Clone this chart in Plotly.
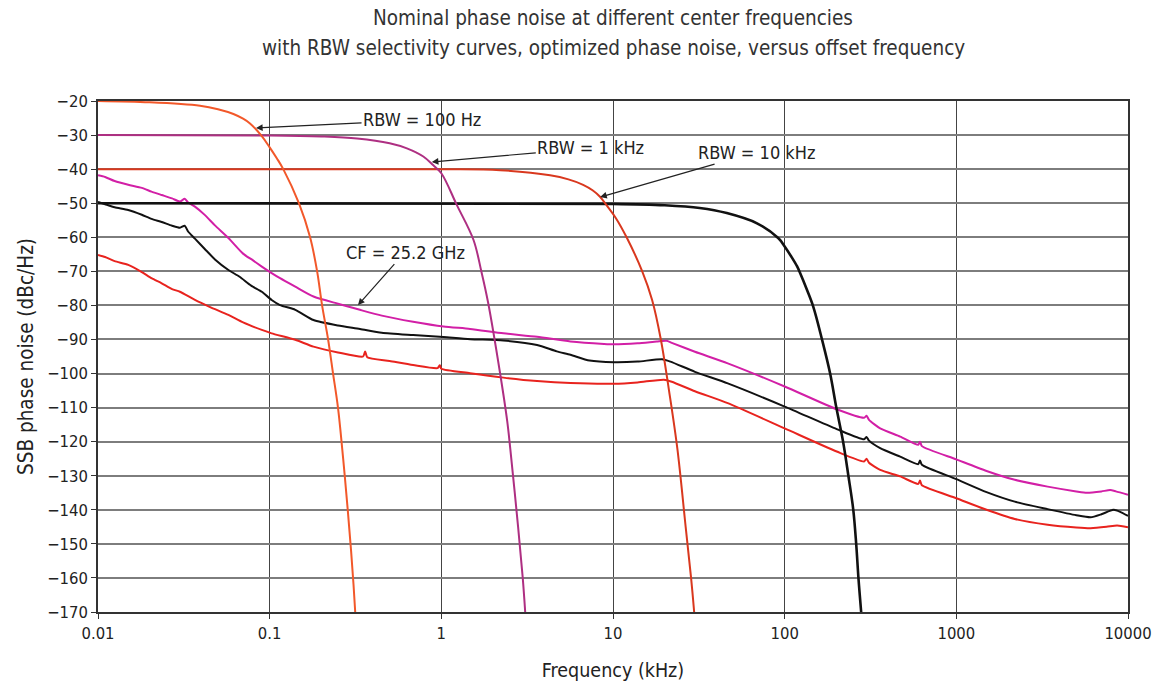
import math
import plotly.graph_objects as go

# ---------------- data ----------------
# RBW selectivity curves (offset frequency in kHz, level in dB)
rbw100_f = [0.01, 0.02, 0.0393, 0.05, 0.0615, 0.07, 0.0768, 0.09, 0.1, 0.11, 0.12, 0.148, 0.172, 0.189, 0.202, 0.219, 0.234, 0.25, 0.268, 0.285, 0.298, 0.308, 0.315]
rbw100_db = [-20, -20.4, -21.4, -22.4, -23.8, -25.2, -26.6, -30.3, -33.6, -36.8, -40, -50, -60, -70, -80, -90, -100, -110, -125, -140, -152, -162, -170]

rbw1k_f = [0.01, 0.1, 0.2, 0.323, 0.5, 0.63, 0.785, 0.895, 1.0, 1.23, 1.54, 1.71, 1.87, 2.2, 2.42, 2.52, 2.8, 2.98, 3.08]
rbw1k_db = [-30, -30.1, -30.4, -31.0, -32.4, -33.9, -36.3, -38.8, -41.2, -50.5, -60.8, -70, -79, -100, -114, -122, -145, -160, -170]

rbw10k_f = [0.01, 1, 2.2, 4.3, 5.5, 6.7, 7.6, 8.4, 9.3, 10.4, 12, 14.8, 16.9, 19, 21.2, 23.7, 26.5, 28.5, 29.7]
rbw10k_db = [-40, -40, -40.3, -41.8, -43.0, -44.6, -46.2, -48.1, -51.0, -54.4, -60, -70, -78.4, -90, -105, -122, -145, -160, -170]

rbw100k_f = [0.01, 10, 20, 32, 46, 69, 92, 100, 110, 118, 123, 135, 147, 165, 184, 200, 219, 235, 251, 261, 269, 279]
rbw100k_db = [-50, -50.2, -50.6, -51.4, -52.9, -55.9, -60.3, -62.7, -65.9, -68.5, -70.5, -75.5, -80.5, -90, -100, -110, -120, -130, -140, -150, -160, -170]

# Phase noise curves (offset frequency in kHz, dBc/Hz)
pn_top_f = [0.01, 0.011, 0.0125, 0.015, 0.018, 0.0205, 0.0235, 0.027, 0.030, 0.032, 0.0335, 0.0367, 0.042, 0.048, 0.0575,
            0.070, 0.080, 0.090, 0.1027, 0.1149, 0.141, 0.18, 0.25, 0.3356, 0.45, 0.685, 1.03, 1.47, 2.30,
            3.61, 5.65, 8.87, 10.1, 13.9, 18, 20.5, 22, 30, 46.6, 100, 201, 290, 300, 310, 360, 471, 600, 614, 630,
            1000, 1500, 2189, 3403, 5000, 5761, 7000, 7873, 8500, 10000]
pn_top_db = [-41.8, -42.3, -43.5, -44.6, -45.5, -46.6, -47.6, -48.6, -49.5, -48.7, -49.8, -51.0, -53.5, -56.5, -60.2,
             -64.8, -66.8, -68.6, -70.5, -72.0, -74.5, -77.4, -79.5, -81.3, -83.0, -84.8, -86.2, -86.9, -88.2,
             -89.2, -90.6, -91.3, -91.4, -91.1, -90.6, -90.4, -91.0, -93.6, -97.0, -103.8, -110.5, -113.0, -112.4, -113.6, -116.1, -118.5, -120.9, -120.0, -121.3,
             -125.2, -128.6, -131.2, -133.2, -134.6, -135.0, -134.6, -134.2, -134.6, -135.6]

pn_mid_f = [0.01, 0.011, 0.0125, 0.015, 0.018, 0.0205, 0.0235, 0.027, 0.030, 0.032, 0.0335, 0.0367, 0.042, 0.048, 0.0575,
            0.0668, 0.078, 0.090, 0.1027, 0.1149, 0.141, 0.18, 0.25, 0.3356, 0.45, 0.685, 1.03, 1.47, 2.30, 3.61, 4.70,
            5.65, 7.3, 10.1, 13.9, 19.3, 21.6, 30, 46.6, 100, 201, 290, 300, 310, 360, 471, 600, 614, 630, 1000, 1500,
            2189, 3403, 5000, 6057, 7000, 8230, 9000, 10000]
pn_mid_db = [-49.6, -50.3, -51.2, -52.0, -53.4, -54.6, -55.5, -56.6, -57.2, -56.6, -58.3, -60.4, -63.5, -66.5, -69.6,
             -71.6, -74.2, -76.0, -78.4, -79.9, -81.3, -84.3, -85.9, -86.9, -88.0, -88.7, -89.3, -89.9, -90.3, -91.6, -93.5,
             -94.5, -96.2, -96.7, -96.5, -95.8, -96.5, -99.5, -102.9, -109.7, -116.3, -119.3, -118.6, -119.7, -121.9, -124.4, -126.6, -125.5, -126.8, -131.0, -134.8,
             -137.6, -139.8, -141.6, -142.2, -141.3, -140.0, -140.6, -141.8]

pn_low_f = [0.01, 0.011, 0.0125, 0.015, 0.018, 0.0205, 0.0235, 0.027, 0.030, 0.0367, 0.045, 0.0575, 0.07, 0.090, 0.1027,
            0.141, 0.18, 0.25, 0.35, 0.36, 0.37, 0.5, 0.685, 0.95, 0.98, 1.0, 1.47, 2.30, 3.61, 5.65, 10.1, 13.9, 19.8,
            22, 30, 46.6, 100, 201, 290, 300, 310, 360, 471, 600, 614, 630, 1000, 1500, 2189, 3403, 5000, 6057, 7500,
            8640, 10000]
pn_low_db = [-65.2, -65.8, -67.0, -68.1, -70.2, -72.0, -73.5, -75.2, -76.0, -78.4, -80.5, -82.8, -85.0, -87.2, -88.2,
             -90.1, -92.1, -93.8, -95.0, -93.5, -95.2, -96.3, -97.5, -98.4, -97.6, -98.6, -99.9, -101.2, -102.2, -102.8, -103.0, -102.6, -101.8,
             -102.4, -105.2, -108.7, -116.1, -122.9, -125.8, -125.0, -126.2, -128.3, -130.2, -132.4, -131.4, -132.8, -136.6, -140.0, -142.7, -144.4, -145.2, -145.4, -145.0,
             -144.6, -145.1]

x_tickvals = [0.01, 0.1, 1, 10, 100, 1000, 10000]
x_ticktext = ["0.01", "0.1", "1", "10", "100", "1000", "10000"]

# annotation labels with the point each arrow points at (kHz, dB)
labels = ["RBW = 100 Hz", "RBW = 1 kHz", "RBW = 10 kHz", "CF = 25.2 GHz"]
label_pts = [(0.0833, -27.9), (0.88, -37.9), (8.42, -48.2), (0.327, -79.9)]
label_offsets = [(166, -8), (159, -14), (156, -45), (47, -53)]

FONT = "DejaVu Sans Condensed, Liberation Sans Narrow, Arial Narrow, sans-serif"

fig = go.Figure()

series = [
    (pn_top_f, pn_top_db, "#D21FA6", 2, 0.6),
    (pn_mid_f, pn_mid_db, "#111111", 2, 0.6),
    (pn_low_f, pn_low_db, "#E8231E", 2, 0.6),
    (rbw100k_f, rbw100k_db, "#111111", 2.6, 1.0),
    (rbw10k_f, rbw10k_db, "#D9381E", 2, 1.0),
    (rbw1k_f, rbw1k_db, "#AE2F82", 2, 1.0),
    (rbw100_f, rbw100_db, "#F2582A", 2, 1.0),
]
for fx, fy, col, w, sm in series:
    fig.add_trace(go.Scatter(x=fx, y=fy, mode="lines",
                             line=dict(color=col, width=w, shape="spline", smoothing=sm),
                             showlegend=False, hoverinfo="skip"))

for txt, (px, py), (ax, ay) in zip(labels, label_pts, label_offsets):
    fig.add_annotation(x=math.log10(px), y=py, xref="x", yref="y", text=txt,
                       showarrow=True, ax=ax, ay=ay, arrowhead=2, arrowsize=1.1,
                       arrowwidth=1.2, arrowcolor="#222", standoff=0,
                       font=dict(family=FONT, size=18, color="#222"), bgcolor="rgba(0,0,0,0)")

fig.add_annotation(text="Nominal phase noise at different center frequencies", xref="paper", yref="paper",
                   x=0.5, y=1.1624, showarrow=False, yanchor="middle",
                   font=dict(family=FONT, size=20.5, color="#333"))
fig.add_annotation(text="with RBW selectivity curves, optimized phase noise, versus offset frequency",
                   xref="paper", yref="paper", x=0.5, y=1.1037, showarrow=False, yanchor="middle",
                   font=dict(family=FONT, size=20.5, color="#333"))

fig.update_layout(
    width=1155, height=688,
    margin=dict(l=98, r=27, t=101, b=76, autoexpand=False),
    paper_bgcolor="white", plot_bgcolor="white",
    font=dict(family=FONT, size=18, color="#222"),
    showlegend=False,
)
fig.update_xaxes(type="log", range=[-2, 4], tickvals=x_tickvals, ticktext=x_ticktext,
                 showgrid=True, gridcolor="#444", gridwidth=1.2,
                 showline=True, linecolor="#333", linewidth=1.5, mirror=True,
                 ticks="outside", ticklen=5, tickcolor="#333", ticklabelstandoff=0,
                 ticklabeloverflow="allow", automargin=False,
                 tickfont=dict(family=FONT, size=16.5, color="#222"),
                 title=dict(text="Frequency (kHz)", font=dict(family=FONT, size=19.5, color="#222"), standoff=22),
                 zeroline=False)
fig.update_yaxes(range=[-170, -20], dtick=10, tick0=-20, automargin=False,
                 showgrid=True, gridcolor="#7d7d7d", gridwidth=1.6,
                 showline=True, linecolor="#333", linewidth=1.5, mirror=True,
                 ticks="outside", ticklen=5, tickcolor="#333",
                 tickfont=dict(family=FONT, size=16.5, color="#222"),
                 title=dict(text="SSB phase noise (dBc/Hz)", font=dict(family=FONT, size=20.5, color="#222"), standoff=8),
                 zeroline=False)

# remove the default 8px page margin so the figure fills the window exactly
fig.write_html("out.html", config={"displayModeBar": False},
               post_script="document.body.style.margin='0';document.body.style.overflow='hidden';")
